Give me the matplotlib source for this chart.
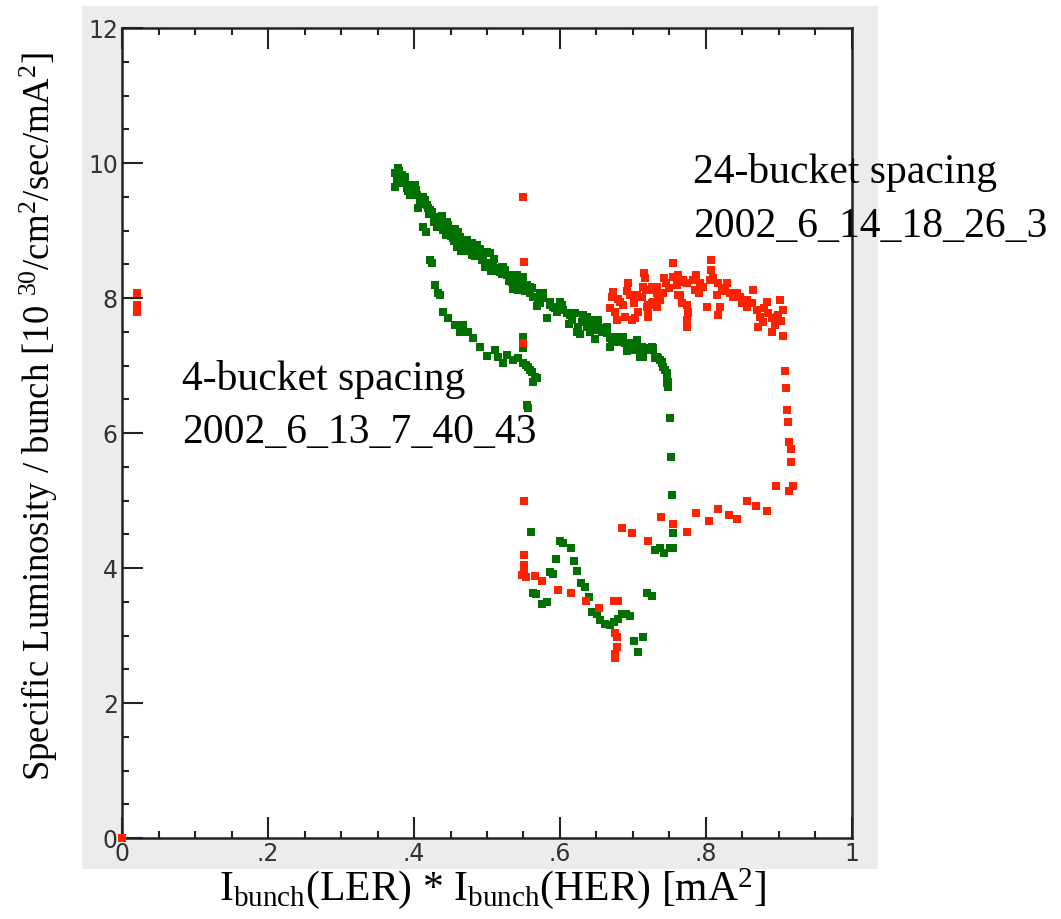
import numpy as np
import matplotlib
matplotlib.use("Agg")
import matplotlib.pyplot as plt
from matplotlib.patches import Rectangle

plt.rcParams['mathtext.fontset'] = 'custom'
plt.rcParams['mathtext.rm'] = 'Liberation Serif'
plt.rcParams['mathtext.it'] = 'Liberation Serif:italic'

# 4-bucket spacing run (green): x = Ibunch(LER)*Ibunch(HER), y = specific luminosity
green_x = [
    0.378, 0.374, 0.384, 0.377, 0.388, 0.374, 0.390, 0.397, 0.401, 0.395, 0.404, 0.408,
    0.415, 0.405, 0.419, 0.425, 0.429, 0.436, 0.445, 0.432, 0.440, 0.449, 0.460, 0.453,
    0.466, 0.473, 0.459, 0.470, 0.477, 0.486, 0.486, 0.493, 0.500, 0.504, 0.497, 0.508,
    0.514, 0.521, 0.527, 0.534, 0.541, 0.548, 0.555, 0.562, 0.573, 0.559,
    0.382, 0.392, 0.399, 0.410, 0.412, 0.418, 0.422, 0.427, 0.434, 0.438, 0.442, 0.447,
    0.451, 0.456, 0.463, 0.468, 0.475, 0.480, 0.483, 0.490, 0.495, 0.502, 0.510, 0.516,
    0.520, 0.525, 0.530, 0.538, 0.543, 0.552,
    0.549, 0.559, 0.566, 0.577, 0.573, 0.586, 0.590, 0.600, 0.604, 0.614, 0.621, 0.625,
    0.632, 0.637, 0.644, 0.651, 0.641, 0.658, 0.664, 0.671, 0.678, 0.686, 0.696, 0.705,
    0.712, 0.719, 0.726, 0.727, 0.733, 0.740, 0.741,
    0.632, 0.641, 0.637, 0.651, 0.655, 0.659, 0.664, 0.673, 0.671, 0.682, 0.686, 0.693,
    0.700, 0.707, 0.710, 0.716, 0.723, 0.727, 0.714, 0.734, 0.740, 0.744, 0.747, 0.747,
    0.748,
    0.522, 0.532, 0.536, 0.545, 0.555, 0.563, 0.570, 0.577, 0.586, 0.593, 0.603, 0.610,
    0.616, 0.623, 0.630, 0.637, 0.644, 0.652, 0.658, 0.664, 0.668, 0.675, 0.682, 0.689,
    0.696, 0.703, 0.710, 0.716, 0.723, 0.730, 0.737, 0.741, 0.747, 0.748, 0.748,
    0.380, 0.386, 0.393, 0.403, 0.413, 0.421, 0.431, 0.444, 0.455, 0.465, 0.479, 0.489,
    0.506, 0.518, 0.535, 0.547, 0.568, 0.582, 0.596, 0.612, 0.628, 0.648, 0.668, 0.692,
    # lower branch
    0.412, 0.416, 0.422, 0.425, 0.429, 0.433, 0.436, 0.440, 0.447, 0.456, 0.467, 0.463,
    0.474, 0.481, 0.490, 0.500, 0.511, 0.515, 0.527, 0.522, 0.536, 0.542, 0.549, 0.556,
    0.562, 0.566, 0.563, 0.568, 0.549, 0.549, 0.553, 0.559,
    # after the drop
    0.555, 0.556, 0.560,
    0.600, 0.604, 0.615, 0.595, 0.619, 0.623, 0.586, 0.590, 0.629, 0.634, 0.563, 0.567,
    0.575, 0.582, 0.640, 0.644, 0.651, 0.655, 0.662, 0.668, 0.674, 0.679, 0.685, 0.690,
    0.696, 0.719, 0.726, 0.714, 0.701, 0.707,
    0.730, 0.737, 0.742, 0.751, 0.755, 0.755, 0.753, 0.752, 0.751,
]
green_y = [
    9.93, 9.85, 9.82, 9.75, 9.79, 9.64, 9.63, 9.64, 9.67, 9.53, 9.53, 9.45,
    9.45, 9.33, 9.33, 9.27, 9.20, 9.16, 9.13, 9.05, 9.01, 8.98, 8.98, 8.89,
    8.86, 8.86, 8.76, 8.74, 8.79, 8.79, 8.67, 8.56, 8.68, 8.67, 8.46, 8.49,
    8.44, 8.46, 8.34, 8.24, 8.34, 8.30, 8.19, 8.15, 8.07, 8.07,
    9.70, 9.58, 9.55, 9.40, 9.50, 9.38, 9.30, 9.12, 9.10, 9.22, 9.05, 9.08,
    8.92, 9.02, 8.90, 8.80, 8.70, 8.82, 8.62, 8.72, 8.58, 8.52, 8.58, 8.40,
    8.36, 8.42, 8.25, 8.20, 8.12, 8.10,
    8.31, 8.16, 8.01, 8.07, 7.93, 7.94, 7.87, 7.94, 7.82, 7.75, 7.78, 7.57,
    7.67, 7.72, 7.63, 7.64, 7.50, 7.50, 7.57, 7.42, 7.35, 7.42, 7.33, 7.38,
    7.27, 7.23, 7.27, 7.26, 7.13, 7.05, 6.98,
    7.75, 7.67, 7.57, 7.60, 7.53, 7.56, 7.48, 7.41, 7.35, 7.42, 7.35, 7.33,
    7.27, 7.27, 7.19, 7.23, 7.26, 7.23, 7.13, 7.11, 7.04, 6.93, 6.83, 6.74,
    6.68,
    8.46, 8.34, 8.24, 8.27, 8.16, 8.01, 7.97, 8.00, 7.90, 7.85, 7.90, 7.78,
    7.67, 7.50, 7.64, 7.60, 7.53, 7.67, 7.56, 7.50, 7.41, 7.38, 7.38, 7.33,
    7.27, 7.23, 7.13, 7.23, 7.26, 7.11, 7.08, 6.98, 6.89, 6.76, 6.68,
    9.88, 9.72, 9.68, 9.60, 9.42, 9.24, 9.18, 8.94, 8.85, 8.70, 8.64, 8.62,
    8.40, 8.38, 8.14, 8.20, 7.88, 7.70, 7.80, 7.62, 7.47, 7.40, 7.28, 7.22,
    9.05, 8.98, 8.56, 8.52, 8.19, 8.07, 8.04, 7.79, 7.70, 7.60, 7.60, 7.50,
    7.50, 7.41, 7.27, 7.14, 7.23, 7.13, 7.16, 7.04, 7.08, 7.11, 7.04, 6.98,
    6.90, 6.83, 6.76, 6.81, 7.42, 7.26, 7.01, 6.93,
    6.41, 6.37, 4.53,
    4.40, 4.37, 4.30, 4.13, 4.10, 3.96, 3.94, 3.91, 3.78, 3.72, 3.63, 3.61,
    3.47, 3.50, 3.57, 3.35, 3.32, 3.23, 3.17, 3.16, 3.20, 3.24, 3.32, 3.32,
    3.29, 3.63, 3.59, 2.98, 2.92, 2.76,
    4.27, 4.30, 4.22, 4.30, 4.30, 4.52, 5.08, 5.64, 6.22,
]

# 24-bucket spacing run (red)
red_x = [
    0.000, 0.021, 0.021, 0.021,
    0.549, 0.551, 0.549, 0.551, 0.551, 0.551, 0.551, 0.548, 0.553, 0.566, 0.575, 0.597,
    0.615, 0.636, 0.653, 0.674, 0.679, 0.675, 0.678, 0.678, 0.675, 0.675,
    0.685, 0.699, 0.721, 0.738, 0.755, 0.774, 0.786, 0.804, 0.816, 0.832, 0.842, 0.856,
    0.868, 0.884, 0.896, 0.914, 0.919,
    0.908, 0.910, 0.911, 0.912, 0.914, 0.916, 0.916, 0.905,
    0.755, 0.807, 0.807, 0.805, 0.755, 0.762, 0.767, 0.693, 0.715, 0.716, 0.742, 0.745,
    0.673, 0.671, 0.682, 0.686, 0.668, 0.675, 0.678, 0.689, 0.696, 0.701, 0.707, 0.699,
    0.703, 0.712, 0.714, 0.719, 0.721, 0.726, 0.733, 0.726, 0.737, 0.741, 0.730,
    0.767, 0.775, 0.774, 0.774, 0.786, 0.792, 0.796, 0.801, 0.810, 0.816, 0.815, 0.819,
    0.816, 0.829, 0.826, 0.833, 0.837, 0.842, 0.847, 0.856, 0.856, 0.864, 0.863, 0.870,
    0.874, 0.871, 0.878, 0.884, 0.885, 0.890, 0.895, 0.890, 0.901, 0.905, 0.897, 0.899,
    0.760, 0.768, 0.726, 0.733, 0.740, 0.734, 0.760, 0.762, 0.764, 0.774, 0.775, 0.774,
    0.782, 0.785, 0.721, 0.727, 0.733, 0.721,
    0.680, 0.692, 0.705, 0.718, 0.750, 0.790, 0.822, 0.850, 0.880, 0.903,
]
red_y = [
    0.00, 8.07, 7.90, 7.79,
    9.50, 8.53, 7.33, 4.99, 4.19, 4.04, 3.97, 3.90, 3.87, 3.88, 3.81, 3.67,
    3.63, 3.51, 3.41, 3.51, 3.51, 3.04, 2.98, 2.83, 2.73, 2.67,
    4.59, 4.52, 4.40, 4.76, 4.65, 4.53, 4.81, 4.70, 4.87, 4.79, 4.73, 5.00,
    4.92, 4.84, 5.21, 5.14, 5.21,
    6.92, 6.67, 6.34, 6.16, 5.87, 5.76, 5.57, 7.44,
    8.52, 8.56, 8.41, 8.27, 8.31, 8.34, 8.24, 8.22, 8.37, 8.30, 8.30, 8.22,
    8.09, 8.01, 7.94, 7.90, 7.85, 7.79, 7.67, 7.72, 8.04, 7.93, 7.79, 7.67,
    7.70, 8.01, 8.16, 7.87, 7.78, 8.16, 8.07, 7.93, 7.97, 8.07, 7.90,
    7.93, 7.78, 7.67, 8.22, 8.34, 8.23, 8.16, 7.87, 8.30, 8.22, 8.04, 7.87,
    7.75, 8.22, 8.15, 8.07, 8.01, 8.07, 8.01, 7.97, 7.87, 8.12, 7.93, 7.82,
    7.72, 7.57, 7.64, 7.94, 7.78, 7.70, 7.60, 7.50, 7.97, 7.82, 7.72, 7.75,
    8.31, 8.27, 8.12, 8.16, 8.07, 8.01, 8.19, 8.04, 8.04, 7.90, 7.79, 7.57,
    8.27, 8.12, 7.90, 7.94, 7.87, 7.72,
    7.98, 8.10, 8.05, 8.12, 8.15, 8.08, 8.10, 7.92, 7.85, 7.66,
]

x_ticks = [0, 0.2, 0.4, 0.6, 0.8, 1.0]
x_ticklabels = ['0', '.2', '.4', '.6', '.8', '1']
y_ticks = [0, 2, 4, 6, 8, 10, 12]

fig = plt.figure(figsize=(10.61, 9.19), dpi=100)
# grey frame behind the plot
fig.patches.append(Rectangle((0.0773, 0.0544), 0.7502, 0.9391, transform=fig.transFigure,
                             facecolor='#ececec', edgecolor='none', zorder=-10))

ax = fig.add_axes([0.115, 0.0881, 0.688, 0.8814])
ax.set_facecolor('white')

ax.plot(green_x, green_y, 's', color='#007000', markersize=5.3, markeredgewidth=0, zorder=3)
ax.plot(red_x, red_y, 's', color='#ff2200', markersize=5.3, markeredgewidth=0, zorder=4, clip_on=False)

ax.set_xlim(0, 1)
ax.set_ylim(0, 12)
ax.set_xticks(x_ticks)
ax.set_xticklabels(x_ticklabels)
ax.set_xticks(np.arange(0, 1.0001, 0.05), minor=True)
ax.set_yticks(y_ticks)
ax.set_yticks(np.arange(0, 12.001, 0.5), minor=True)

ax.tick_params(which='both', direction='in', top=True, right=False, colors='#222222',
               labelcolor='#333333', labelsize=17, width=1.5)
ax.tick_params(which='major', length=15, pad=3)
ax.tick_params(which='minor', length=5)
for lab in ax.get_xticklabels() + ax.get_yticklabels():
    lab.set_family(['Liberation Sans Narrow', 'DejaVu Sans'])
for sp in ax.spines.values():
    sp.set_color('#222222')
    sp.set_linewidth(1.8)

serif = 'Liberation Serif'
ax.set_xlabel(r'I$_{\rm bunch}$(LER) * I$_{\rm bunch}$(HER) [mA$^{2}$]',
              fontsize=30, family=serif)
ax.xaxis.set_label_coords(0.507, -0.035)
ax.set_ylabel(r'Specific Luminosity / bunch [10 $^{30}$/cm$^{2}$/sec/mA$^{2}$]',
              fontsize=26.5, family=serif)
ax.yaxis.set_label_coords(-0.085, 0.52)

ax.text(0.782, 9.86, '24-bucket spacing', fontsize=30, family=serif, va='center', clip_on=False)
ax.text(0.782, 9.06, '2002_6_14_18_26_3', fontsize=30, family=serif, va='center', clip_on=False)
ax.text(0.082, 6.79, '4-bucket spacing', fontsize=30, family=serif, va='center')
ax.text(0.082, 6.01, '2002_6_13_7_40_43', fontsize=30, family=serif, va='center')

fig.savefig('out.png', dpi=100)
